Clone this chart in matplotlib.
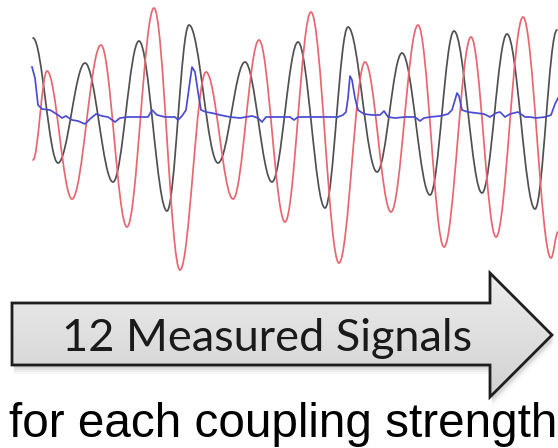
import numpy as np
import matplotlib
matplotlib.use('Agg')
import matplotlib.pyplot as plt
from matplotlib.path import Path
from matplotlib.patches import PathPatch, Polygon

# extrema of the two oscillating signals (pixel-like units, y grows downward)
black_x = [33, 58, 85, 113, 139, 167, 189, 218, 245, 272, 298, 325, 348, 377,
           402, 430, 454, 482, 507, 535, 557]
black_y = [38, 163, 63, 182, 41, 211, 25, 163, 62, 182, 42, 208, 27, 172,
           53, 195, 31, 193, 34, 209, 30]

red_x = [33, 47, 72, 101, 127, 154, 180, 206, 233, 259, 285, 311, 339, 365,
         391, 418, 444, 471, 496, 523, 551, 558]
red_y = [160, 71, 199, 45, 227, 8, 270, 72, 199, 40, 222, 12, 263, 62,
         212, 25, 247, 37, 237, 17, 258, 232]

# third signal: flat baseline with small wiggles and a few spikes
blue_x = [32, 35, 38, 42, 50, 58, 62, 66, 72, 78, 85, 90, 96, 102, 108, 115,
          120, 128, 140, 148, 152, 157, 165, 175, 178, 182, 186, 189, 192, 195,
          198, 201, 206, 212, 220, 230, 240, 252, 258, 262, 266, 272, 280, 290,
          294, 298, 310, 325, 338, 343, 346, 348, 350, 352, 355, 358, 364, 372,
          380, 384, 388, 395, 405, 415, 420, 424, 430, 440, 448, 452, 455, 457,
          459, 462, 468, 476, 484, 490, 496, 500, 505, 510, 518, 525, 530, 536,
          545, 551, 555, 558]
blue_y = [67, 78, 105, 109, 110, 115, 118, 116, 120, 121, 124, 119, 114, 116,
          117, 122, 118, 117, 117, 117, 110, 115, 117, 117, 120, 116, 110, 88,
          67, 72, 92, 110, 112, 113, 115, 117, 118, 116, 118, 122, 117, 117,
          117, 117, 120, 117, 117, 117, 117, 115, 112, 98, 76, 80, 98, 110, 114,
          115, 115, 111, 117, 118, 117, 117, 121, 118, 117, 116, 114, 110, 100,
          93, 96, 110, 112, 113, 114, 117, 113, 112, 117, 114, 112, 117, 117,
          118, 117, 115, 104, 98]

arrow_label = '12 Measured Signals'
caption = 'for each coupling strength'


def smooth_wave(ax, xs, ys, color, lw):
    # cubic segments with flat tangents at each extremum
    verts = [(xs[0], ys[0])]
    codes = [Path.MOVETO]
    for i in range(len(xs) - 1):
        dx = xs[i + 1] - xs[i]
        verts += [(xs[i] + 0.36 * dx, ys[i]),
                  (xs[i + 1] - 0.36 * dx, ys[i + 1]),
                  (xs[i + 1], ys[i + 1])]
        codes += [Path.CURVE4] * 3
    ax.add_patch(PathPatch(Path(verts, codes), fill=False, edgecolor=color,
                           lw=lw, capstyle='round', joinstyle='round'))


fig = plt.figure(figsize=(5.58, 4.48), dpi=100)
ax = fig.add_axes([0, 0, 1, 1])
ax.set_xlim(0, 558)
ax.set_ylim(448, 0)
ax.axis('off')

smooth_wave(ax, black_x, black_y, '#505050', 1.25)
smooth_wave(ax, red_x, red_y, '#e86670', 1.25)
ax.plot(blue_x, blue_y, color='#4b4bd2', lw=1.25)

# arrow with soft shadow and gray gradient fill
arrow_pts = [(12, 303), (490, 303), (490, 273), (552, 335), (490, 397),
             (490, 365), (12, 365)]
for k, a in zip([9, 7, 5, 3], [0.06, 0.08, 0.10, 0.12]):
    shadow = Polygon([(x + 2, y + k) for x, y in arrow_pts], closed=True,
                     facecolor='#808080', edgecolor='none', alpha=a, zorder=1)
    ax.add_patch(shadow)

arrow = Polygon(arrow_pts, closed=True, facecolor='none', edgecolor='#1e1e1e',
                lw=2.0, joinstyle='miter', zorder=4)
ax.add_patch(arrow)
grad = np.linspace(0, 1, 200).reshape(-1, 1)
img = ax.imshow(grad, cmap=matplotlib.colors.LinearSegmentedColormap.from_list(
    'g', ['#ececec', '#d2d2d2']), extent=(12, 552, 397, 273), aspect='auto',
    zorder=3)
clip = Polygon(arrow_pts, closed=True, transform=ax.transData)
img.set_clip_path(clip)
ax.set_xlim(0, 558)
ax.set_ylim(448, 0)

ax.text(62, 351, arrow_label, family='Lato', fontsize=32.5, color='#1a1a1a',
        ha='left', va='baseline', zorder=5)
ax.text(9, 437, caption, family='Liberation Sans', fontsize=34.3,
        color='black', ha='left', va='baseline', zorder=5)

fig.savefig('out.png', dpi=100)
